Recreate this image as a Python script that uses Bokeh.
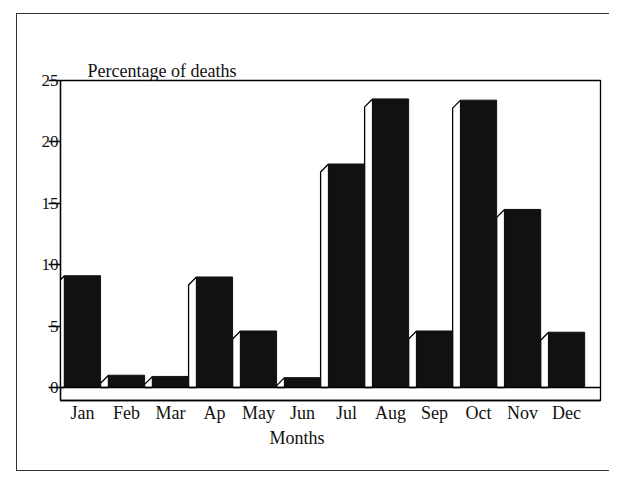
from bokeh.plotting import figure
from bokeh.models import Range1d, FixedTicker, Span, ColumnDataSource, Title
from bokeh.embed import file_html
from bokeh.resources import INLINE

# ---- data ----
months = ["Jan", "Feb", "Mar", "Ap", "May", "Jun", "Jul", "Aug", "Sep", "Oct", "Nov", "Dec"]
pct_deaths = [9.1, 1.0, 0.9, 9.0, 4.6, 0.8, 18.2, 23.5, 4.6, 23.4, 14.5, 4.5]
y_ticks = [0, 5, 10, 15, 20, 25]

# ---- style constants ----
FONT = "Liberation Serif"
BAR_W = 0.82     # front face width (x units)
DEPTH_X = 0.18   # side face depth (x units)
DEPTH_Y = 0.65   # side face drop (y units)

xs = list(range(1, len(months) + 1))

p = figure(width=593, height=458,
           x_range=Range1d(0.5, 12.77), y_range=Range1d(-1.06, 25),
           output_backend="svg", toolbar_location=None,
           min_border_left=43, min_border_right=10,
           min_border_top=66, min_border_bottom=72)

# side faces (white, outlined)
side_xs, side_ys = [], []
for x, h in zip(xs, pct_deaths):
    left = x - BAR_W / 2
    side_xs.append([left, left, left - DEPTH_X, left - DEPTH_X])
    side_ys.append([0, h, h - DEPTH_Y, 0])
p.patches(side_xs, side_ys, fill_color="white", line_color="black", line_width=1.3)

# front faces (black)
src = ColumnDataSource(dict(x=xs, top=pct_deaths))
p.vbar(x="x", top="top", bottom=0, width=BAR_W, source=src,
       fill_color="#111111", line_color="#111111")

# floor line
p.add_layout(Span(location=0, dimension="width", line_color="black", line_width=1.3))

# title
p.title.text = "Percentage of deaths"
p.title.text_font = FONT
p.title.text_font_style = "normal"
p.title.text_font_size = "18px"
p.title.text_color = "#111111"
p.title.align = "left"
p.title.offset = 27
p.title.standoff = 0

# axes
p.xgrid.visible = False
p.ygrid.visible = False
p.outline_line_color = "black"
p.outline_line_width = 1.3
p.outline_line_alpha = 1.0

p.yaxis.ticker = FixedTicker(ticks=y_ticks)
p.yaxis.major_tick_out = 12
p.yaxis.major_tick_in = 0
p.yaxis.minor_tick_line_color = None
p.yaxis.axis_line_color = "black"
p.yaxis.axis_line_width = 1.3
p.yaxis.major_tick_line_width = 1.3
p.yaxis.major_label_standoff = -10
p.yaxis.major_label_text_baseline = "bottom"
p.yaxis.major_label_text_font = FONT
p.yaxis.major_label_text_font_size = "17px"
p.yaxis.major_label_text_color = "#111111"

p.xaxis.ticker = FixedTicker(ticks=xs)
p.xaxis.major_label_overrides = {x: m for x, m in zip(xs, months)}
p.xaxis.major_tick_line_color = None
p.xaxis.major_tick_out = 0
p.xaxis.major_tick_in = 0
p.xaxis.minor_tick_line_color = None
p.xaxis.axis_line_color = "black"
p.xaxis.axis_line_width = 1.3
p.xaxis.major_label_standoff = 2
p.xaxis.major_label_text_font = FONT
p.xaxis.major_label_text_font_size = "18px"
p.xaxis.major_label_text_color = "#111111"

# x-axis title, placed under Jun as in the original
p.add_layout(Title(text="Months", align="left", offset=209, standoff=0,
                   text_font=FONT, text_font_style="normal",
                   text_font_size="18px", text_color="#111111"), "below")

# page frame of the original figure box (left, top, bottom)
p.styles = {"margin-left": "16px", "margin-top": "13px",
            "border-left": "1px solid #333", "border-top": "1px solid #333",
            "border-bottom": "1px solid #333"}

open("out.html", "w").write(file_html(p, INLINE))
